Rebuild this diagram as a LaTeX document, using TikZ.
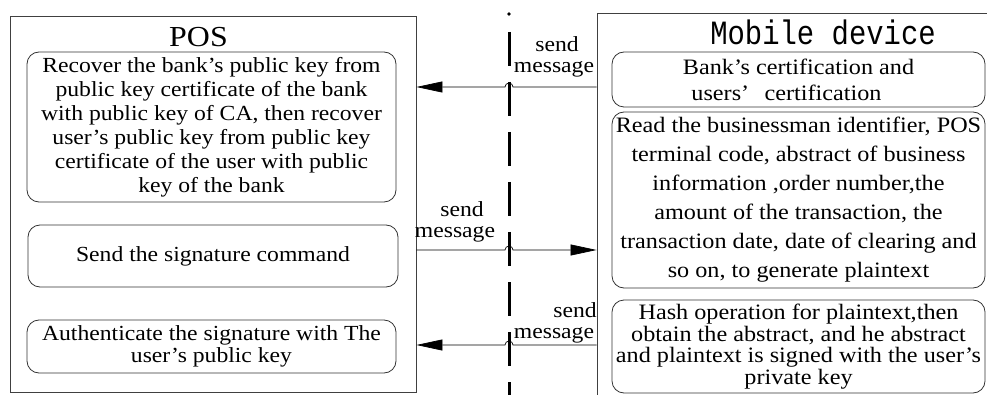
\documentclass[tikz,border=0pt]{standalone}
\usepackage{fontspec}
\setmainfont{Liberation Serif}[FakeStretch=1.1]
\newfontfamily\titlemono{Liberation Mono}[FakeStretch=0.85]
\usetikzlibrary{arrows.meta}

\begin{document}
\begin{tikzpicture}[x=1pt,y=-1pt,
  frame/.style={draw=black!75, line width=0.9pt, inner sep=0pt},
  stepbox/.style={draw=black!80, line width=0.8pt, rounded corners=12pt,
    align=center, inner sep=0pt},
  postext/.style={font=\fontsize{21.5}{24}\selectfont},
  msg/.style={line width=0.7pt, -{Triangle[length=26pt,width=11pt]}},
  lbl/.style={font=\fontsize{21.5}{21.5}\selectfont, anchor=base, inner sep=0pt},
  divider/.style={line width=3pt, dash pattern=on 34pt off 16pt},
]
\useasboundingbox (0,0) rectangle (987,395);
\clip (0,0) rectangle (987,395);

% the two parties
\node[frame, minimum width=406pt, minimum height=376pt] (pos) at (213,204) {};
\node[frame, minimum width=403pt, minimum height=397pt] (mob) at (798.5,211.5) {};

\node[anchor=base, inner sep=0pt, font=\fontsize{29}{29}\selectfont] (postitle) at (198.5,47) {POS};
\node[anchor=base, inner sep=0pt, font=\titlemono\fontsize{34}{34}\selectfont] (mobtitle) at (823,45) {Mobile device};

% POS steps
\node[stepbox, postext, minimum width=369pt, minimum height=150pt] (p1) at (211.5,127)
  {Recover the bank’s public key from\\public key certificate of the bank\\with public key of CA, then recover\\user’s public key from public key\\certificate of the user with public\\key of the bank};
\node[stepbox, postext, minimum width=370pt, minimum height=62pt] (p2) at (213,256)
  {Send the signature command};
\node[stepbox, font=\fontsize{21.5}{22}\selectfont, minimum width=369pt, minimum height=53pt] (p3) at (211.5,346.5)
  {Authenticate the signature with The\\user's public key};

% mobile device steps
\node[stepbox, font=\fontsize{22}{26}\selectfont, minimum width=373pt, minimum height=55pt] (m1) at (798.5,79.5)
  {Bank’s certification and\\users’\hspace{0.7em}certification\hspace*{24pt}\mbox{}};
\node[stepbox, font=\fontsize{22}{29}\selectfont, minimum width=373pt, minimum height=176pt] (m2) at (798.5,200)
  {Read the businessman identifier, POS\\terminal code, abstract of business\\information ,order number,the\\amount of the transaction, the\\transaction date, date of clearing and\\so on, to generate plaintext};
\node[stepbox, font=\fontsize{22}{21.7}\selectfont, minimum width=373pt, minimum height=93pt] (m3) at (798.5,346.5)
  {Hash operation for plaintext,then\\obtain the abstract, and he abstract\\and plaintext is signed with the user’s\\private key};

% dividing line between the parties
\coordinate (ddot) at (509,14);
\coordinate (dtop) at (509,32);
\coordinate (dbot) at (509,400);
\fill (ddot) circle (1.8pt);
\draw[divider] (dtop) -- (dbot);

% crossings with the divider
\coordinate (h1) at (509,87);
\coordinate (h2) at (509,250);
\coordinate (h3) at (509,345);

% messages
\draw[msg] (mob.west |- h1) -- ([xshift=4pt]h1) arc[start angle=0, end angle=180, radius=4pt] -- (pos.east |- h1);
\draw[msg] (pos.east |- h2) -- ([xshift=-4pt]h2) arc[start angle=180, end angle=0, radius=4pt] -- (mob.west |- h2);
\draw[msg] (mob.west |- h3) -- ([xshift=4pt]h3) arc[start angle=0, end angle=180, radius=4pt] -- (pos.east |- h3);

\node[lbl] (s1) at (557,52) {send};
\node[lbl] (t1) at (554,73) {message};
\node[lbl] (s2) at (462,217) {send};
\node[lbl] (t2) at (455,238) {message};
\node[lbl] (s3) at (575,317) {send};
\node[lbl] (t3) at (554,338) {message};
\end{tikzpicture}
\end{document}
